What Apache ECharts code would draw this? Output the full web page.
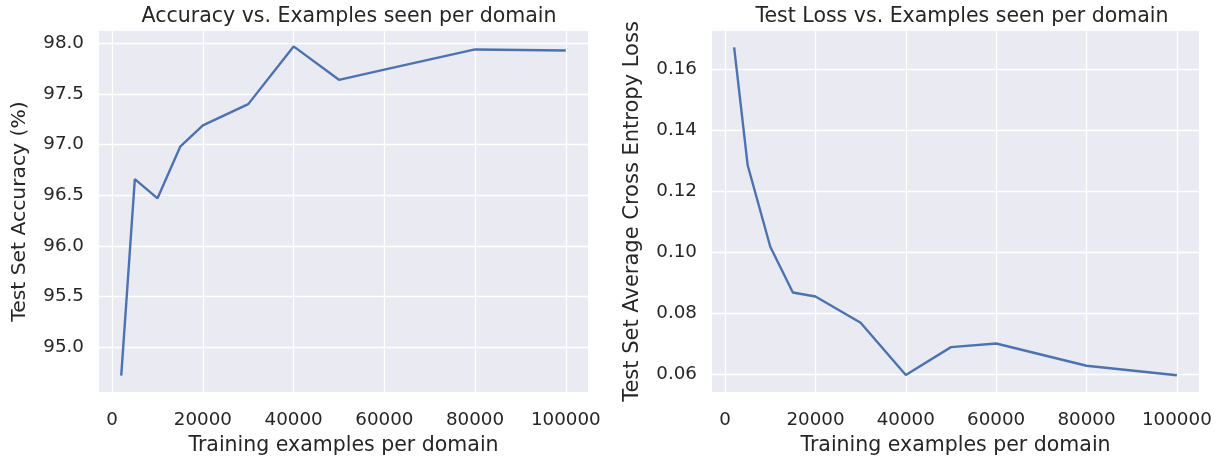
<!DOCTYPE html>
<html>
<head>
<meta charset="utf-8">
<script src="https://cdn.jsdelivr.net/npm/echarts@6/dist/echarts.min.js"></script>
<style>
  html, body { margin: 0; padding: 0; background: #fff; }
  #chart { width: 1225px; height: 462px; }
</style>
</head>
<body>
<div id="chart"></div>
<script>
// 数据
const examples = [2000, 5000, 10000, 15000, 20000, 30000, 40000, 50000, 60000, 80000, 100000];
const accuracy = [94.72, 96.66, 96.47, 96.98, 97.19, 97.40, 97.97, 97.64, 97.74, 97.94, 97.93];
const loss = [0.1670, 0.1284, 0.1017, 0.0867, 0.0854, 0.0768, 0.0597, 0.0688, 0.0700, 0.0627, 0.0596];
const xTicks = [0, 20000, 40000, 60000, 80000, 100000];
const accTicks = [95.0, 95.5, 96.0, 96.5, 97.0, 97.5, 98.0];
const lossTicks = [0.06, 0.08, 0.10, 0.12, 0.14, 0.16];

const chart = echarts.init(document.getElementById('chart'));

const txt = '#262626';
const font = 'DejaVu Sans';

function xAxis(gridIndex) {
    return {
        type: 'value', gridIndex: gridIndex,
        min: -2900, max: 104900,
        name: 'Training examples per domain',
        nameLocation: 'middle', nameGap: 43,
        nameTextStyle: { color: txt, fontSize: 20.5, fontFamily: font },
        axisLine: { show: false },
        axisTick: { show: false, customValues: xTicks },
        axisLabel: {
            customValues: xTicks, color: txt, fontSize: 18.3, fontFamily: font, margin: 19,
            formatter: v => String(v)
        },
        splitLine: { show: true, lineStyle: { color: '#fff', width: 1.3 } }
    };
}

function yAxis(gridIndex, name, min, max, ticks, digits, nameSize) {
    return {
        type: 'value', gridIndex: gridIndex,
        min: min, max: max,
        name: name,
        nameLocation: 'middle', nameGap: 69,
        nameTextStyle: { color: txt, fontSize: nameSize, fontFamily: font },
        axisLine: { show: false },
        axisTick: { show: false, customValues: ticks },
        axisLabel: {
            customValues: ticks, color: txt, fontSize: 18.3, fontFamily: font, margin: 15,
            formatter: v => v.toFixed(digits)
        },
        splitLine: { show: true, lineStyle: { color: '#fff', width: 1.3 } }
    };
}

const option = {
    animation: false,
    title: [
        { text: 'Accuracy vs. Examples seen per domain', left: 344, top: 1, textAlign: 'center',
          textStyle: { color: txt, fontSize: 20.5, fontWeight: 'normal', fontFamily: font } },
        { text: 'Test Loss vs. Examples seen per domain', left: 957, top: 1, textAlign: 'center',
          textStyle: { color: txt, fontSize: 20.5, fontWeight: 'normal', fontFamily: font } }
    ],
    grid: [
        { left: 99, right: 637, top: 31, bottom: 70, show: true, backgroundColor: '#EAEAF2', borderWidth: 0 },
        { left: 712, right: 26, top: 31, bottom: 70, show: true, backgroundColor: '#EAEAF2', borderWidth: 0 }
    ],
    xAxis: [xAxis(0), xAxis(1)],
    yAxis: [
        yAxis(0, 'Test Set Accuracy (%)', 94.558, 98.122, accTicks, 1, 20.3),
        yAxis(1, 'Test Set Average Cross Entropy Loss', 0.0541, 0.1724, lossTicks, 2, 21)
    ],
    series: [
        {
            type: 'line', xAxisIndex: 0, yAxisIndex: 0,
            data: examples.map((x, i) => [x, accuracy[i]]),
            showSymbol: false, lineStyle: { color: '#4C72B0', width: 2.4 }
        },
        {
            type: 'line', xAxisIndex: 1, yAxisIndex: 1,
            data: examples.map((x, i) => [x, loss[i]]),
            showSymbol: false, lineStyle: { color: '#4C72B0', width: 2.4 }
        }
    ]
};

option && chart.setOption(option);
</script>
</body>
</html>
